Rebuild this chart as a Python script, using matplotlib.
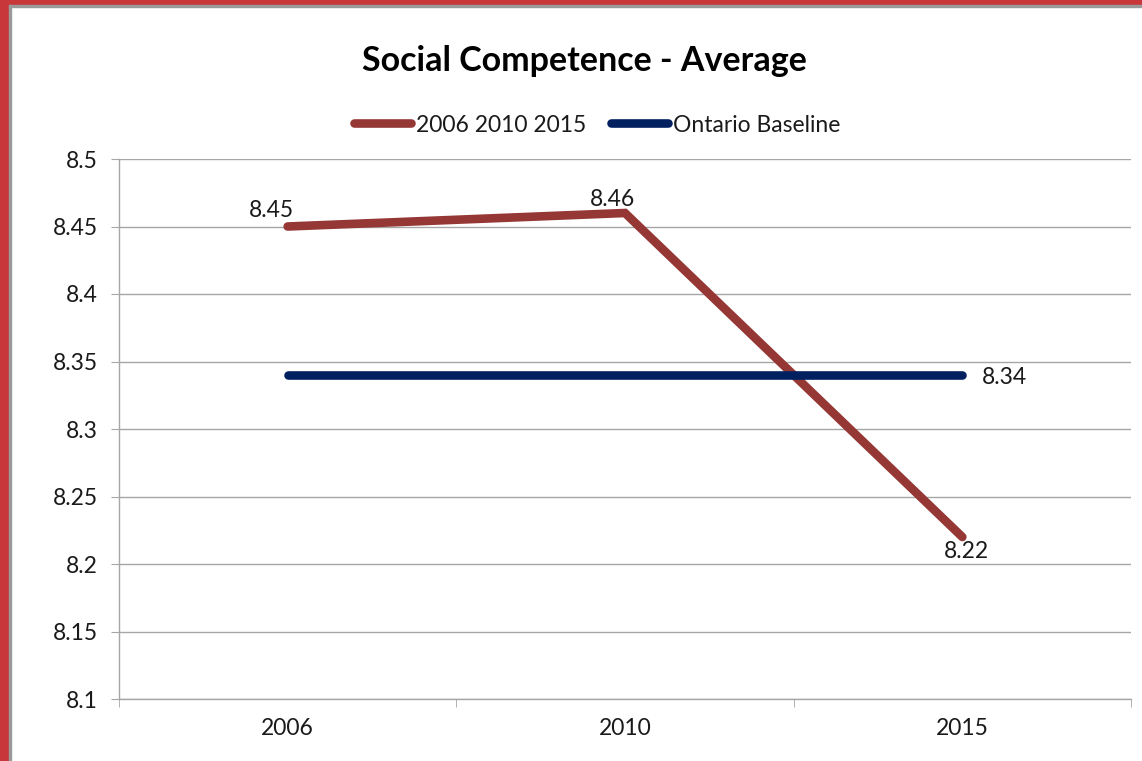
import matplotlib.pyplot as plt
from matplotlib.patches import Rectangle

plt.rcParams['font.family'] = ['Lato', 'DejaVu Sans']

# Survey years and averages
years = ['2006', '2010', '2015']
averages = [8.45, 8.46, 8.22]
baseline = [8.34, 8.34, 8.34]
y_ticks = [8.1, 8.15, 8.2, 8.25, 8.3, 8.35, 8.4, 8.45, 8.5]

RED = '#953735'
NAVY = '#002060'
GRID = '#a6a6a6'
TXT = '#1a1a1a'
FS = 16.5

fig = plt.figure(figsize=(11.42, 7.61), dpi=100)

# slide frame: red bar on the left and top, thin grey edge inside it
W, H = 1142, 761
fig.patches.append(Rectangle((0, 0), 9 / W, 1, transform=fig.transFigure,
                             color='#c8383a', zorder=0))
fig.patches.append(Rectangle((0, 1 - 5 / H), 1, 5 / H, transform=fig.transFigure,
                             color='#c8383a', zorder=0))
fig.patches.append(Rectangle((9 / W, 0), 2 / W, 1 - 5 / H, transform=fig.transFigure,
                             color='#9a9a9a', zorder=0))
fig.patches.append(Rectangle((9 / W, 1 - 7 / H), 1, 2 / H, transform=fig.transFigure,
                             color='#9a9a9a', zorder=0))

ax = fig.add_axes([119 / W, 1 - 699 / H, (1131 - 119) / W, (699 - 159) / H])

x = range(len(years))
ax.plot(x, averages, color=RED, lw=6.2, solid_capstyle='round',
        solid_joinstyle='miter', label='2006 2010 2015', zorder=3)
ax.plot(x, baseline, color=NAVY, lw=6.2, solid_capstyle='round',
        label='Ontario Baseline', zorder=3)

ax.set_xlim(-0.5, 2.5)
ax.set_ylim(8.1, 8.5)
ax.set_yticks(y_ticks)
ax.set_yticklabels([f'{v:g}' for v in y_ticks])
ax.set_xticks(list(x))
ax.set_xticklabels(years)
ax.set_xticks([-0.5, 0.5, 1.5, 2.5], minor=True)

ax.grid(axis='y', color=GRID, lw=1)
ax.set_axisbelow(True)
for side in ['top', 'right']:
    ax.spines[side].set_visible(False)
for side in ['left', 'bottom']:
    ax.spines[side].set_color(GRID)
    ax.spines[side].set_linewidth(1)

ax.tick_params(axis='y', length=6, color=GRID, labelsize=FS, pad=9,
               labelcolor=TXT)
ax.tick_params(axis='x', which='major', length=0, labelsize=FS, pad=14,
               labelcolor=TXT)
ax.tick_params(axis='x', which='minor', length=6, color=GRID)

# value labels
ax.annotate(f'{averages[0]:g}', (0, averages[0]), xytext=(-12, 4),
            textcoords='offset points', ha='center', va='bottom',
            fontsize=FS, color=TXT)
ax.annotate(f'{averages[1]:g}', (1, averages[1]), xytext=(-9, 2),
            textcoords='offset points', ha='center', va='bottom',
            fontsize=FS, color=TXT)
ax.annotate(f'{averages[2]:g}', (2, averages[2]), xytext=(3, -3),
            textcoords='offset points', ha='center', va='top',
            fontsize=FS, color=TXT)
ax.annotate(f'{baseline[2]:g}', (2, baseline[2]), xytext=(14, -2),
            textcoords='offset points', ha='left', va='center',
            fontsize=FS, color=TXT)

fig.text(584 / W, 1 - 61 / H, 'Social Competence - Average', ha='center',
         va='center', fontsize=24.5, fontweight='bold')
fig.legend(loc='center', bbox_to_anchor=(597 / W, 1 - 125 / H), ncol=2,
           frameon=False, fontsize=FS, handlelength=2.5, handletextpad=0.2,
           columnspacing=1.1, labelcolor=TXT)

fig.savefig('out.png', dpi=100)
